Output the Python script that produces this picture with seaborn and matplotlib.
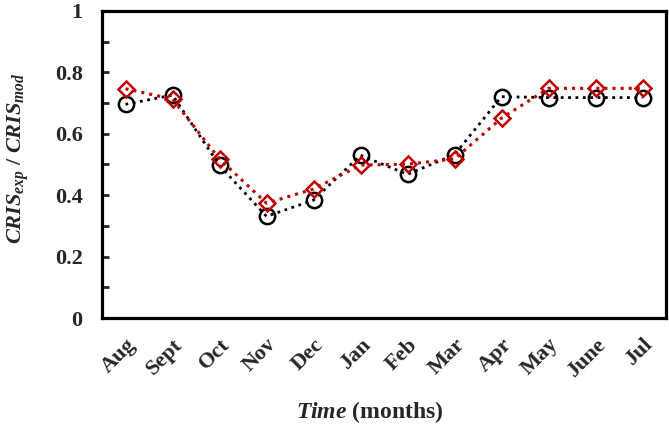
import matplotlib
matplotlib.use("Agg")
import matplotlib.pyplot as plt
import seaborn as sns
import pandas as pd
from matplotlib.ticker import MultipleLocator

# values
months = ["Aug", "Sept", "Oct", "Nov", "Dec", "Jan", "Feb", "Mar", "Apr", "May", "June", "Jul"]
ratio_circle = [0.696, 0.726, 0.497, 0.331, 0.384, 0.530, 0.468, 0.532, 0.721, 0.718, 0.718, 0.718]
ratio_diamond = [0.747, 0.713, 0.518, 0.374, 0.420, 0.498, 0.501, 0.518, 0.651, 0.748, 0.748, 0.748]

sns.set_style("white")
plt.rcParams['font.family'] = ['Liberation Serif', 'DejaVu Serif']
plt.rcParams['font.weight'] = 'bold'
plt.rcParams['mathtext.fontset'] = 'custom'
plt.rcParams['mathtext.it'] = 'Liberation Serif:italic:bold'
plt.rcParams['mathtext.rm'] = 'Liberation Serif:bold'
plt.rcParams['mathtext.bf'] = 'Liberation Serif:bold'

df = pd.DataFrame({"pos": range(len(months)), "circle": ratio_circle, "diamond": ratio_diamond})

fig = plt.figure(figsize=(6.69, 4.34), dpi=100)
ax = fig.add_axes([102 / 669, 1 - 318 / 434, (666 - 102) / 669, (318 - 11) / 434])

red = "#C00000"
sns.lineplot(data=df, x="pos", y="circle", ax=ax, color="black", linestyle=":", linewidth=2,
             marker="o", markersize=11, markerfacecolor="none", markeredgecolor="black",
             markeredgewidth=1.8)
sns.lineplot(data=df, x="pos", y="diamond", ax=ax, color=red, linestyle=":", linewidth=2.2,
             marker="D", markersize=8.5, markerfacecolor="none", markeredgecolor=red,
             markeredgewidth=1.8)

ax.set_xlim(-0.5, len(months) - 0.5)
ax.set_ylim(0, 1)
ax.set_xticks(range(len(months)))
ax.set_xticklabels(months, rotation=45, ha="right", rotation_mode="anchor", fontsize=16, fontweight="bold")
ax.yaxis.set_major_locator(MultipleLocator(0.2))
ax.yaxis.set_minor_locator(MultipleLocator(0.1))
ax.set_yticks([0, 0.2, 0.4, 0.6, 0.8, 1.0])
ax.set_yticklabels(["0", "0.2", "0.4", "0.6", "0.8", "1"], fontsize=16, fontweight="bold")
ax.tick_params(axis="y", which="both", direction="in", length=5, width=2, left=True, pad=14)
ax.tick_params(axis="x", length=0, pad=12)

for sp in ax.spines.values():
    sp.set_linewidth(2.3)
    sp.set_color("black")

ax.set_xlabel(r"$Time$ (months)", fontsize=17, fontweight="bold")
ax.set_ylabel(r"$CRIS_{exp}$ / $CRIS_{mod}$", fontsize=16, fontweight="bold")
ax.xaxis.set_label_coords(0.475, -0.265)
ax.yaxis.set_label_coords(-0.125, 0.52)

fig.savefig("out.png", dpi=100)
